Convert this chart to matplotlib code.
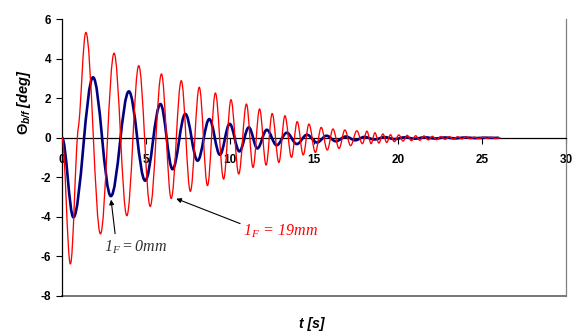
import matplotlib
matplotlib.use("Agg")
import matplotlib.pyplot as plt
from matplotlib.path import Path
from matplotlib.patches import PathPatch

# ---- data: extrema (time [s], angle [deg]) ----
red_t = [0.0, 0.50, 0.97, 1.42, 2.29, 3.10, 3.86, 4.57, 5.25, 5.92, 6.50, 7.10, 7.64,
         8.17, 8.66, 9.13, 9.62, 10.06, 10.52, 10.98, 11.37, 11.76, 12.15, 12.51,
         12.91, 13.27, 13.66, 14.00, 14.36, 14.70, 15.08, 15.43, 15.79, 16.13, 16.49,
         16.84, 17.18, 17.55, 17.88, 18.15, 18.40, 18.63, 18.86, 19.10, 19.33, 19.55,
         19.78, 20.05, 20.30, 20.55, 20.80, 21.05, 21.30, 21.55, 21.80, 22.05, 22.30,
         22.55, 22.80, 23.05, 23.30, 23.55, 23.80, 24.05, 24.30, 24.55, 24.80, 25.05,
         25.30, 25.55, 25.80, 26.10]
red_v = [0.0, -6.38, 0.50, 5.32, -4.86, 4.27, -3.94, 3.64, -3.47, 3.22, -3.07, 2.88, -2.71,
         2.55, -2.42, 2.26, -2.09, 1.92, -1.83, 1.70, -1.50, 1.45, -1.38, 1.22,
         -1.25, 1.11, -0.99, 0.81, -0.87, 0.69, -0.74, 0.52, -0.62, 0.44, -0.54,
         0.39, -0.40, 0.35, -0.30, 0.33, -0.30, 0.25, -0.27, 0.19, -0.24, 0.15,
         -0.20, 0.14, -0.17, 0.12, -0.15, 0.10, -0.13, 0.09, -0.11, 0.07, -0.10,
         0.06, -0.08, 0.05, -0.07, 0.05, -0.06, 0.04, -0.05, 0.03, -0.04, 0.03,
         -0.03, 0.02, -0.03, 0.0]
# slope [deg/s] of the red curve at its shoulder point (index 2); all other knots are extrema
red_shoulder_index = 2
red_shoulder_slope = 5.0

blue_t = [0.0, 0.68, 1.85, 2.91, 3.98, 4.95, 5.86, 6.58, 7.34, 8.07, 8.77, 9.40, 9.98,
          10.56, 11.12, 11.63, 12.19, 12.78, 13.38, 13.98, 14.58, 15.18, 15.75, 16.30,
          16.90, 17.45, 18.00, 18.60, 19.20, 19.80, 20.40, 21.00, 21.60, 22.20, 22.80,
          23.40, 24.00, 24.60, 25.20, 25.80, 26.00]
blue_v = [0.0, -4.02, 3.05, -2.95, 2.34, -2.17, 1.70, -1.59, 1.20, -1.16, 0.94, -0.86, 0.70,
          -0.69, 0.52, -0.54, 0.40, -0.38, 0.25, -0.32, 0.15, -0.24, 0.10, -0.18,
          0.06, -0.13, 0.04, -0.09, 0.03, -0.07, 0.02, -0.05, 0.02, -0.04, 0.01,
          -0.03, 0.01, -0.02, 0.0, -0.01, 0.0]

x_ticks = [0, 5, 10, 15, 20, 25, 30]
y_ticks = [-8, -6, -4, -2, 0, 2, 4, 6]
label_blue = r"$1_{F}=0mm$"
label_red = r"$1_{F}\,=\,19mm$"

plt.rcParams["mathtext.fontset"] = "custom"
plt.rcParams["mathtext.rm"] = "Liberation Serif:italic"
plt.rcParams["mathtext.it"] = "Liberation Serif:italic"
plt.rcParams["mathtext.bf"] = "Liberation Sans:bold"
plt.rcParams["mathtext.bfit"] = "Liberation Sans:bold:italic"


def smooth_path(ts, vs, slopes=None, k=0.3634):
    slopes = slopes or {}
    verts = [(ts[0], vs[0])]
    codes = [Path.MOVETO]
    for i in range(len(ts) - 1):
        t0, v0, t1, v1 = ts[i], vs[i], ts[i + 1], vs[i + 1]
        s0, s1 = slopes.get(i, 0.0), slopes.get(i + 1, 0.0)
        dt = t1 - t0
        verts += [(t0 + k * dt, v0 + s0 * k * dt), (t1 - k * dt, v1 - s1 * k * dt), (t1, v1)]
        codes += [Path.CURVE4] * 3
    return Path(verts, codes)


fig = plt.figure(figsize=(5.74, 3.31), dpi=100)
ax = fig.add_axes([62 / 574, 1 - 296 / 331, (566 - 62) / 574, (296 - 19) / 331])

ax.add_patch(PathPatch(smooth_path(blue_t, blue_v), facecolor="none",
                       edgecolor="#000080", lw=1.9, zorder=3))
ax.add_patch(PathPatch(smooth_path(red_t, red_v, {red_shoulder_index: red_shoulder_slope}),
                       facecolor="none", edgecolor="#ff0000", lw=0.95, zorder=4))

ax.set_xlim(0, 30)
ax.set_ylim(-8, 6)

# spines
ax.spines["bottom"].set_position(("data", 0))
ax.spines["bottom"].set_color("black")
ax.spines["bottom"].set_linewidth(0.9)
ax.spines["left"].set_color("black")
ax.spines["left"].set_linewidth(0.9)
ax.spines["top"].set_visible(False)
ax.spines["right"].set_color("#808080")
ax.spines["right"].set_linewidth(0.9)
ax.plot([0, 30], [-8, -8], color="#606060", lw=1.2, clip_on=False, zorder=1)

ax.set_xticks(x_ticks)
ax.set_yticks(y_ticks)
ax.set_xticklabels([str(v) for v in x_ticks])
ax.set_yticklabels([str(v) for v in y_ticks])
ax.tick_params(axis="x", direction="out", length=4, width=0.8, pad=8)
ax.tick_params(axis="y", direction="out", length=4, width=0.8, pad=4)
for lab in ax.get_xticklabels() + ax.get_yticklabels():
    lab.set_fontfamily("Liberation Sans")
    lab.set_fontweight("bold")
    lab.set_fontsize(8.5)

fig.text(24 / 574, 1 - 102 / 331, r"$\mathbf{\Theta}_{\mathbfit{b/f}}\ \mathbfit{[deg]}$",
         rotation=90, ha="center", va="center", fontsize=10.5)
fig.text(312 / 574, 1 - 324 / 331, "t [s]", family="Liberation Sans",
         fontweight="bold", style="italic", ha="center", va="center", fontsize=10)

# labels and arrows
ax.text(4.4, -5.52, label_blue, ha="center", va="center", fontsize=11.5, color="#303030")
ax.annotate("", xy=(2.92, -3.13), xytext=(3.16, -4.85),
            arrowprops=dict(arrowstyle="-|>", color="black", lw=0.8,
                            mutation_scale=7, shrinkA=0, shrinkB=0))
ax.text(13.0, -4.75, label_red, ha="center", va="center", fontsize=11.5, color="#ff0000")
ax.annotate("", xy=(6.8, -3.08), xytext=(10.6, -4.34),
            arrowprops=dict(arrowstyle="-|>", color="black", lw=0.8,
                            mutation_scale=7, shrinkA=0, shrinkB=0))

fig.savefig("out.png", dpi=100)
